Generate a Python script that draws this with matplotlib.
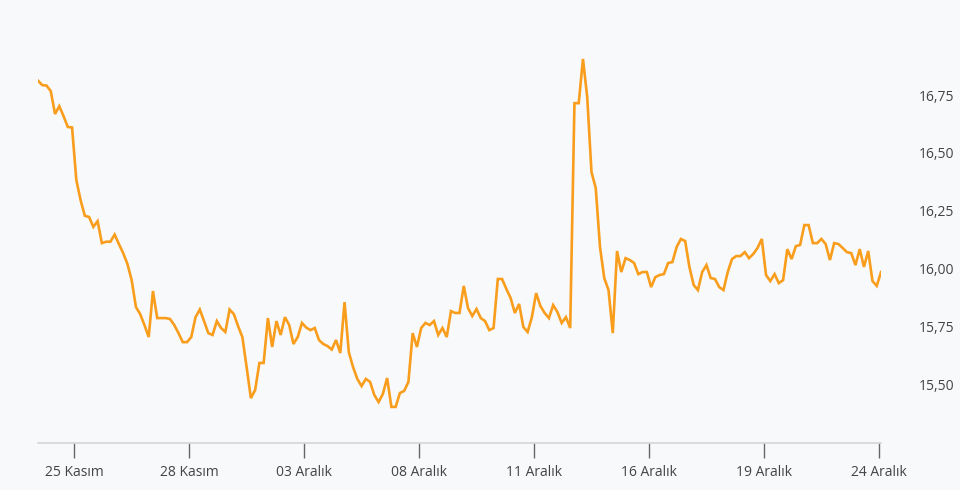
import matplotlib
matplotlib.use("Agg")
import matplotlib.pyplot as plt
import numpy as np

# saatlik kapanis degerleri (24 Kasim - 24 Aralik)
values = [16.812, 16.793, 16.791, 16.767, 16.668, 16.702, 16.659, 16.612, 16.610, 16.383,
          16.296, 16.228, 16.223, 16.180, 16.205, 16.110, 16.116, 16.116, 16.147, 16.106,
          16.067, 16.020, 15.950, 15.834, 15.803, 15.756, 15.704, 15.903, 15.786, 15.786,
          15.786, 15.782, 15.756, 15.721, 15.682, 15.682, 15.704, 15.790, 15.823, 15.773,
          15.721, 15.713, 15.773, 15.743, 15.726, 15.823, 15.803, 15.751, 15.704, 15.574,
          15.440, 15.475, 15.592, 15.592, 15.786, 15.661, 15.773, 15.713, 15.790, 15.756,
          15.674, 15.704, 15.765, 15.745, 15.734, 15.743, 15.691, 15.674, 15.665, 15.650,
          15.691, 15.635, 15.855, 15.639, 15.574, 15.523, 15.492, 15.523, 15.510, 15.453,
          15.423, 15.458, 15.527, 15.402, 15.402, 15.462, 15.471, 15.510, 15.721, 15.661,
          15.743, 15.765, 15.756, 15.773, 15.713, 15.743, 15.704, 15.816, 15.808, 15.808,
          15.925, 15.829, 15.795, 15.825, 15.786, 15.773, 15.734, 15.743, 15.955, 15.955,
          15.912, 15.873, 15.808, 15.847, 15.747, 15.726, 15.790, 15.894, 15.838, 15.808,
          15.786, 15.842, 15.812, 15.765, 15.790, 15.743, 16.715, 16.715, 16.906, 16.741,
          16.417, 16.348, 16.093, 15.959, 15.907, 15.721, 16.076, 15.985, 16.045, 16.037,
          16.024, 15.976, 15.985, 15.985, 15.920, 15.963, 15.972, 15.976, 16.024, 16.028,
          16.093, 16.128, 16.119, 16.007, 15.929, 15.907, 15.985, 16.015, 15.959, 15.955,
          15.920, 15.907, 15.985, 16.041, 16.054, 16.054, 16.071, 16.045, 16.063, 16.089,
          16.128, 15.972, 15.946, 15.976, 15.937, 15.950, 16.084, 16.041, 16.097, 16.102,
          16.188, 16.188, 16.110, 16.110, 16.128, 16.106, 16.037, 16.110, 16.106, 16.089,
          16.071, 16.067, 16.015, 16.084, 16.007, 16.076, 15.946, 15.925, 15.985]

date_labels = ["25 Kasım", "28 Kasım", "03 Aralık", "08 Aralık",
               "11 Aralık", "16 Aralık", "19 Aralık", "24 Aralık"]
y_ticks = [15.50, 15.75, 16.00, 16.25, 16.50, 16.75]

plt.rcParams['font.family'] = ['Open Sans', 'DejaVu Sans']

bg = '#f8f9fb'
fig = plt.figure(figsize=(9.6, 4.9), dpi=100, facecolor=bg)
# eksen alanini piksel olarak yerlestir
ax = fig.add_axes([38/960, (490-443)/490, (881-38)/960, (443-40)/490])
ax.set_facecolor(bg)

x = np.arange(len(values))
ax.plot(x, values, color='#f99d1c', lw=1.9, solid_joinstyle='miter')

ax.set_xlim(0, len(values) - 1)
ax.set_ylim(15.246, 16.988)

# her 3 islem gunu (27 saat) bir etiket
tick_pos = [8.5 + 27*k for k in range(len(date_labels))]
ax.set_xticks(tick_pos)
ax.set_xticklabels(date_labels, fontsize=10, color='#444444')
ax.tick_params(axis='x', length=11, width=1, color='#666666', pad=5)

ax.yaxis.tick_right()
ax.set_yticks(y_ticks)
ax.set_yticklabels([("%.2f" % v).replace('.', ',') for v in y_ticks], fontsize=10, color='#444444')
ax.tick_params(axis='y', length=0, pad=27)

for s in ['top', 'left', 'right']:
    ax.spines[s].set_visible(False)
ax.spines['bottom'].set_color('#d4d6da')
ax.spines['bottom'].set_linewidth(1.2)

fig.savefig("out.png", dpi=100, facecolor=bg)
